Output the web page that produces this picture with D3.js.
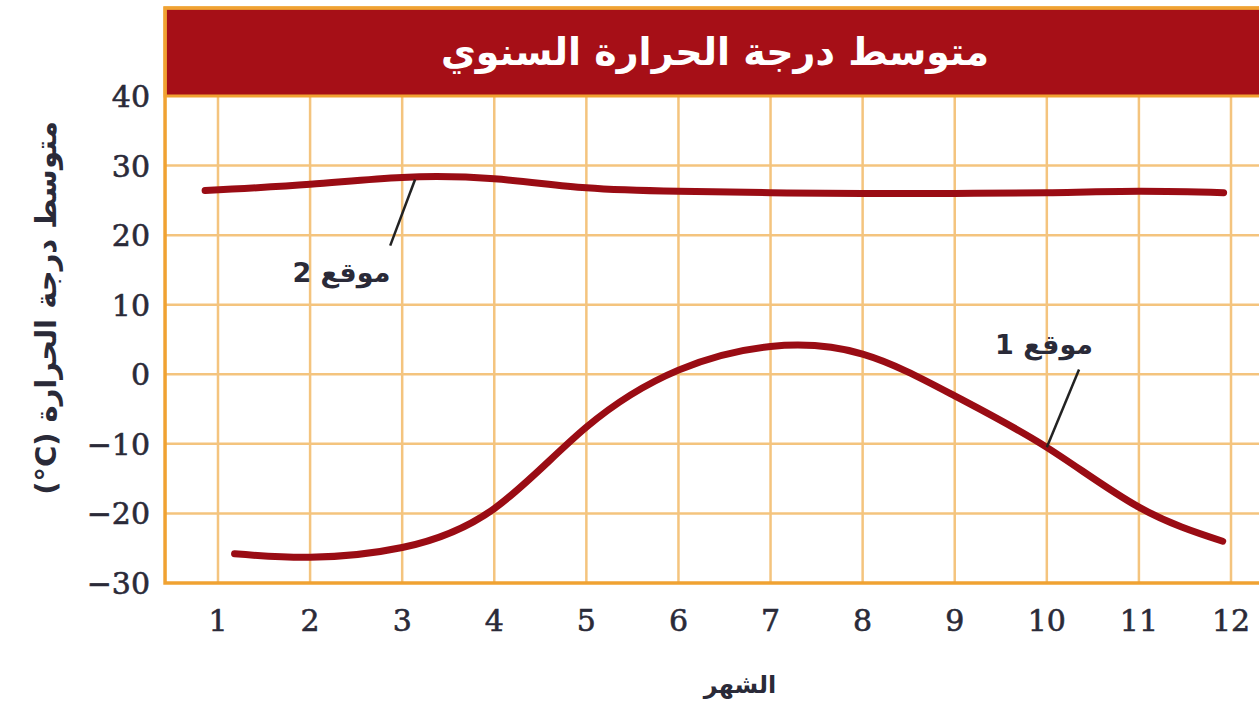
<!DOCTYPE html>
<html><head><meta charset="utf-8">
<script src="https://cdn.jsdelivr.net/npm/d3@7"></script>
<style>body{margin:0;background:#fff;}svg{display:block;}</style>
</head><body>
<svg id="c" width="1259" height="709"></svg>
<script>
const title = "متوسط درجة الحرارة السنوي";
const xTitle = "الشهر";
const yTitle = "متوسط درجة الحرارة \u2066(°C)\u2069";
const monthTicks = [1,2,3,4,5,6,7,8,9,10,11,12];
const tempTicks = [-30,-20,-10,0,10,20,30,40];
const site1Label = "موقع 1";
const site2Label = "موقع 2";
const site1Months = [1.18, 2, 3, 4, 5, 6, 7, 8, 9, 10, 11, 11.91];
const site1Temps  = [-25.8, -26.3, -24.9, -19.3, -7.6, 0.6, 4.0, 2.9, -3.1, -10.5, -19.1, -24.0];
const site2Months = [0.86, 2, 3, 4, 5, 6, 7, 8, 9, 10, 11, 11.92];
const site2Temps  = [26.4, 27.3, 28.3, 28.1, 26.8, 26.3, 26.1, 26.0, 26.0, 26.1, 26.3, 26.1];

const svg = d3.select("#c");
const x = d3.scaleLinear().domain([1,12]).range([218,1231]);
const y = d3.scaleLinear().domain([-30,40]).range([583,96]);
const plotLeft = x(0.425), plotRight = x(12.37), plotTop = 8;
const gridCol = "#f4c47e", frameCol = "#f0a232", red = "#a60f17", curveCol = "#9a0c14", txt = "#2a2a38";

// grid
svg.append("g").selectAll("line").data(monthTicks).join("line")
  .attr("x1", d=>x(d)).attr("x2", d=>x(d)).attr("y1", y(40)).attr("y2", y(-30))
  .attr("stroke", gridCol).attr("stroke-width", 2.5);
svg.append("g").selectAll("line").data(tempTicks.filter(d=>d>-30 && d<40)).join("line")
  .attr("x1", plotLeft).attr("x2", plotRight).attr("y1", d=>y(d)).attr("y2", d=>y(d))
  .attr("stroke", gridCol).attr("stroke-width", 2.5);

// header
svg.append("rect").attr("x", plotLeft).attr("y", plotTop).attr("width", plotRight-plotLeft).attr("height", y(40)-plotTop)
  .attr("fill", red).attr("stroke", frameCol).attr("stroke-width", 3);
// frame
svg.append("rect").attr("x", plotLeft).attr("y", plotTop).attr("width", plotRight-plotLeft).attr("height", y(-30)-plotTop)
  .attr("fill", "none").attr("stroke", frameCol).attr("stroke-width", 3.5);

svg.append("text").attr("x", (plotLeft+plotRight)/2).attr("y", (plotTop+y(40))/2 + 13)
  .attr("text-anchor","middle").attr("direction","rtl")
  .attr("font-family","DejaVu Sans").attr("font-weight","bold").attr("font-size",38)
  .attr("fill","#fff").text(title);

// axes labels
svg.append("g").selectAll("text").data(tempTicks).join("text")
  .attr("x", 150).attr("y", d=>y(d)+11).attr("text-anchor","end")
  .attr("font-family","DejaVu Serif").attr("font-size",30).attr("fill",txt)
  .attr("stroke",txt).attr("stroke-width",0.6)
  .text(d=> d<0 ? "\u2212"+Math.abs(d) : d);
svg.append("g").selectAll("text").data(monthTicks).join("text")
  .attr("x", d=>x(d)).attr("y", 631).attr("text-anchor","middle")
  .attr("font-family","DejaVu Serif").attr("font-size",30).attr("fill",txt)
  .attr("stroke",txt).attr("stroke-width",0.6)
  .text(d=>d);

svg.append("text").attr("x", 740).attr("y", 693).attr("text-anchor","middle").attr("direction","rtl")
  .attr("font-family","DejaVu Sans").attr("font-weight","bold").attr("font-size",24).attr("fill",txt).text(xTitle);
svg.append("text").attr("transform","translate(56,308) rotate(-90)").attr("text-anchor","middle").attr("direction","rtl")
  .attr("font-family","DejaVu Sans").attr("font-weight","bold").attr("font-size",29).attr("fill",txt).text(yTitle);

// curves
const line = d3.line().x(d=>x(d[0])).y(d=>y(d[1])).curve(d3.curveNatural);
[[site1Months, site1Temps],[site2Months, site2Temps]].forEach(([m,t])=>{
  svg.append("path").attr("d", line(m.map((v,i)=>[v,t[i]])))
    .attr("fill","none").attr("stroke",curveCol).attr("stroke-width",7).attr("stroke-linecap","round");
});

// callouts
svg.append("line").attr("x1", x(3.14)).attr("y1", y(28.0)).attr("x2", x(2.87)).attr("y2", y(18.5))
  .attr("stroke","#222").attr("stroke-width",2.5);
svg.append("text").attr("x", x(2.34)).attr("y", y(13.3)).attr("text-anchor","middle").attr("direction","rtl")
  .attr("font-family","DejaVu Sans").attr("font-weight","bold").attr("font-size",27).attr("fill",txt).text(site2Label);
svg.append("line").attr("x1", x(10)).attr("y1", y(-10.5)).attr("x2", x(10.35)).attr("y2", y(0.7))
  .attr("stroke","#222").attr("stroke-width",2.5);
svg.append("text").attr("x", x(9.97)).attr("y", y(2.9)).attr("text-anchor","middle").attr("direction","rtl")
  .attr("font-family","DejaVu Sans").attr("font-weight","bold").attr("font-size",27).attr("fill",txt).text(site1Label);
</script>
</body></html>
